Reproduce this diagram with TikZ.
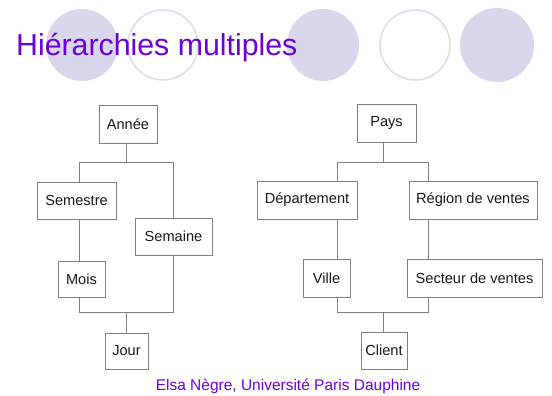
\documentclass[tikz,border=0pt]{standalone}
\usepackage{fontspec}
\setmainfont{Liberation Sans}
\definecolor{lavender}{RGB}{217,215,235}
\definecolor{ringcol}{RGB}{220,219,238}
\definecolor{titlepurple}{RGB}{108,0,220}
\definecolor{linegray}{RGB}{128,128,128}
\definecolor{labelink}{RGB}{25,25,25}
\begin{document}
\begin{tikzpicture}[x=1pt,y=-1pt,
  levelbox/.style={draw=linegray, line width=0.8pt, fill=white, inner sep=0pt,
    text=labelink, font=\fontsize{14.6}{17}\selectfont, anchor=center},
  link/.style={draw=linegray, line width=0.8pt},
  disc/.style={fill=lavender},
  ring/.style={draw=ringcol, line width=1.5pt}]
\useasboundingbox (0,0) rectangle (552,396);
\fill[white] (0,0) rectangle (552,396);

% decorative discs and rings along the top
\fill[disc] (82,45) circle (36);
\draw[ring] (163,45) circle (35);
\fill[disc] (323,45) circle (36);
\draw[ring] (415,45) circle (35);
\fill[disc] (497,45) circle (37);

% title
\node[anchor=base west, inner sep=0pt, text=titlepurple,
  font=\fontsize{30.3}{36}\selectfont] (title) at (16,56) {Hiérarchies multiples};

% time hierarchy
\node[levelbox, minimum width=58pt, minimum height=38pt] (annee) at (128,124) {Année};
\node[levelbox, minimum width=79pt, minimum height=37pt] (semestre) at (76.5,200.5) {Semestre};
\node[levelbox, minimum width=77pt, minimum height=37pt] (semaine) at (173.5,236.5) {Semaine};
\node[levelbox, minimum width=47pt, minimum height=36pt] (mois) at (81.5,279) {Mois};
\node[levelbox, minimum width=43pt, minimum height=36pt] (jour) at (126.5,351) {Jour};

\coordinate (tTop) at (126,162);
\coordinate (tTopL) at (79,162);
\coordinate (tTopR) at (173,162);
\coordinate (tBot) at (126,312);
\coordinate (tBotL) at (79,312);
\coordinate (tBotR) at (173,312);

\draw[link] (annee.south -| tTop) -- (tTop);
\draw[link] (semestre.north -| tTopL) -- (tTopL) -- (tTopR) -- (semaine.north -| tTopR);
\draw[link] (semestre.south -| tTopL) -- (mois.north -| tTopL);
\draw[link] (mois.south -| tBotL) -- (tBotL) -- (tBotR) -- (semaine.south -| tBotR);
\draw[link] (tBot) -- (jour.north -| tBot);

% geographic hierarchy
\node[levelbox, minimum width=59pt, minimum height=38pt] (pays) at (386.5,123) {Pays};
\node[levelbox, minimum width=100pt, minimum height=38pt] (dept) at (307,200) {Département};
\node[levelbox, minimum width=128pt, minimum height=38pt] (region) at (473,200) {Région de ventes};
\node[levelbox, minimum width=47pt, minimum height=38pt] (ville) at (326.5,278) {Ville};
\node[levelbox, minimum width=135pt, minimum height=38pt] (secteur) at (474.5,278) {Secteur de ventes};
\node[levelbox, minimum width=46pt, minimum height=37pt] (client) at (384,350.5) {Client};

\coordinate (gTop) at (383,162);
\coordinate (gTopL) at (337,162);
\coordinate (gTopR) at (428,162);
\coordinate (gBot) at (383,312);
\coordinate (gBotL) at (337,312);
\coordinate (gBotR) at (428,312);

\draw[link] (pays.south -| gTop) -- (gTop);
\draw[link] (dept.north -| gTopL) -- (gTopL) -- (gTopR) -- (region.north -| gTopR);
\draw[link] (dept.south -| gTopL) -- (ville.north -| gTopL);
\draw[link] (region.south -| gTopR) -- (secteur.north -| gTopR);
\draw[link] (ville.south -| gBotL) -- (gBotL) -- (gBotR) -- (secteur.south -| gBotR);
\draw[link] (gBot) -- (client.north -| gBot);

% footer
\node[anchor=base, inner sep=0pt, text=titlepurple,
  font=\fontsize{15.5}{18}\selectfont] (footer) at (288,390) {Elsa Nègre, Université Paris Dauphine};
\end{tikzpicture}
\end{document}
